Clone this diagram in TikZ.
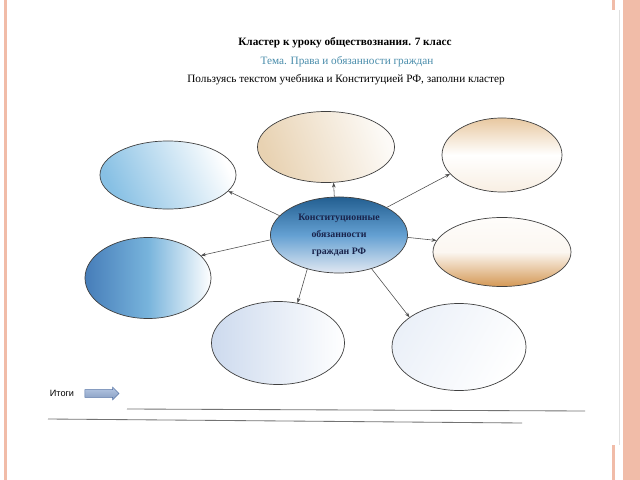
\documentclass[tikz,border=0pt]{standalone}
\usepackage{fontspec}
\setmainfont{Liberation Serif}
\newfontfamily\itogifont{Liberation Sans}
\usetikzlibrary{shapes.geometric,shapes.arrows,arrows.meta}

\definecolor{salmon}{RGB}{241,188,168}
\definecolor{temablue}{RGB}{72,140,170}
\definecolor{navytext}{RGB}{25,35,75}
\definecolor{skyblue}{RGB}{135,192,228}
\definecolor{deepblue}{RGB}{70,125,185}
\definecolor{midblue}{RGB}{120,180,220}
\definecolor{beige}{RGB}{232,210,178}
\definecolor{tan}{RGB}{232,200,160}
\definecolor{ochre}{RGB}{212,152,85}
\definecolor{paleblue}{RGB}{205,218,238}
\definecolor{centertop}{RGB}{35,95,145}
\definecolor{centermid}{RGB}{100,160,210}
\definecolor{centerbot}{RGB}{225,232,242}
\definecolor{arrowfill}{RGB}{150,175,215}
\definecolor{arrowdraw}{RGB}{85,115,165}

\begin{document}
\begin{tikzpicture}[x=0.025cm,y=-0.025cm,
        ell/.style = {
            ellipse,
            draw=black!75,
            line width=0.5pt,
            inner sep=0pt
        },
        lnk/.style = {-{Stealth[length=3.5pt,width=2.6pt]}, draw=black!70, line width=0.4pt},
        small/.style = {font=\fontsize{8}{9}\selectfont}]

    \useasboundingbox (0,0) rectangle (640,480);
    \fill[white] (0,0) rectangle (640,480);

    % page edges
    \fill[salmon] (4,0) rectangle (7,480);
    \fill[salmon] (623,0) rectangle (640,480);
    \fill[salmon] (612,0) rectangle (615,10);
    \fill[salmon] (612,445) rectangle (615,480);
    \draw[black!12, line width=0.4pt] (619,10) -- (619,445);

    % heading
    \node[small, font=\bfseries\fontsize{8}{9}\selectfont] (title) at (345,43) {Кластер к уроку обществознания. 7 класс};
    \node[small, text=temablue] (tema) at (347,62) {Тема. Права и обязанности граждан};
    \node[small] (task) at (346,80) {Пользуясь текстом учебника и Конституцией РФ, заполни кластер};

    % cluster
    \node[ell, minimum width=3.425cm, minimum height=1.9cm,
        top color=centertop, bottom color=centerbot, middle color=centermid,
        align=center, text=navytext, font=\bfseries\fontsize{7}{12}\selectfont] (m) at (339,235)
        {Конституционные\\обязанности\\граждан РФ};

    \node[ell, minimum width=3.4cm, minimum height=1.7cm,
        left color=skyblue, right color=white, shading angle=115] (a) at (168,175) {};
    \node[ell, minimum width=3.425cm, minimum height=1.775cm,
        left color=beige, right color=white!90!beige, shading angle=110] (b) at (326,147) {};
    \node[ell, minimum width=3.0cm, minimum height=1.85cm,
        top color=tan, bottom color=white!70!tan, middle color=white] (c) at (502,155) {};
    \node[ell, minimum width=3.45cm, minimum height=1.725cm,
        top color=white!95!tan, bottom color=ochre, middle color=white!85!tan] (d) at (502,252) {};
    \node[ell, minimum width=3.15cm, minimum height=2.025cm,
        left color=deepblue, right color=white, middle color=midblue] (f) at (148,278) {};
    \node[ell, minimum width=3.325cm, minimum height=2.075cm,
        left color=paleblue, right color=white] (e) at (278,343) {};
    \node[ell, minimum width=3.35cm, minimum height=2.175cm,
        left color=white!60!paleblue, right color=white, shading angle=60] (g) at (459,347) {};

    \draw[lnk] (m.97) -- (b.-78);
    \draw[lnk] (m.162) -- (a.-15);
    \draw[lnk] (m.30) -- (c.200);
    \draw[lnk] (m.-2) -- (d.170);
    \draw[lnk] (m.184) -- (f.23);
    \draw[lnk] (m.227) -- (e.64);
    \draw[lnk] (m.-46) -- (g.149);

    % summary
    \node[font=\itogifont\fontsize{6.5}{8}\selectfont] (itogi) at (62,393) {Итоги};
    \node[single arrow, draw=arrowdraw, top color=arrowfill!70!white, bottom color=arrowfill!90!black,
        line width=0.4pt, minimum height=0.85cm, single arrow head extend=0.06cm,
        inner xsep=0pt, inner ysep=0.09cm] (arr) at (100,393.5) {};
    \draw[black!55, line width=0.6pt] (127,409) -- (585,411);
    \draw[black!55, line width=0.6pt] (48,419) -- (522,423);
\end{tikzpicture}
\end{document}
